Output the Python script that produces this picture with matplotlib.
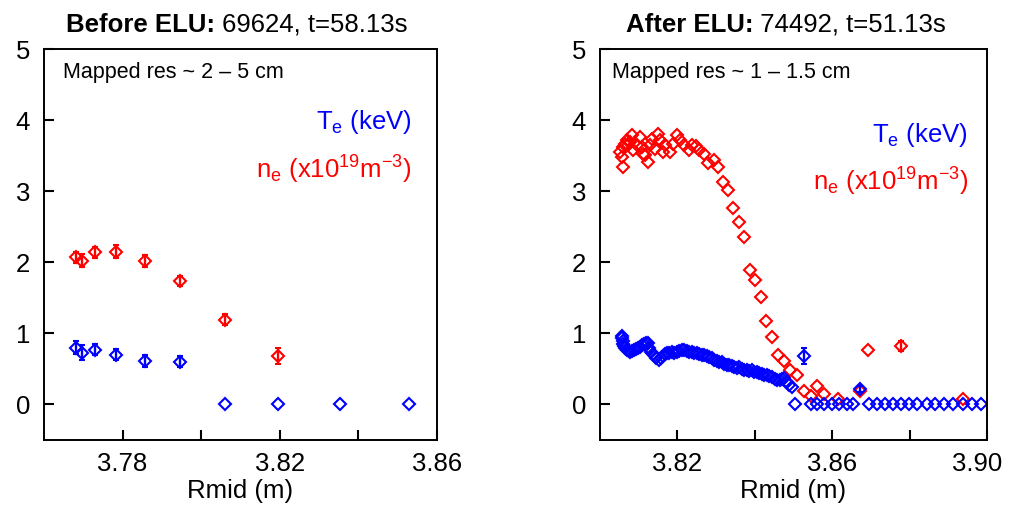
import numpy as np
from matplotlib import pyplot as plt
from matplotlib import transforms

plt.rcParams['font.family'] = ['Liberation Sans', 'DejaVu Sans']
plt.rcParams['mathtext.fontset'] = 'custom'
plt.rcParams['mathtext.rm'] = 'Liberation Sans'
plt.rcParams['mathtext.it'] = 'Liberation Sans:italic'

# ---- before ELU (69624) ----
rBefore = [3.7682, 3.7696, 3.7730, 3.7783, 3.7856, 3.7947, 3.8061, 3.8196, 3.8353, 3.8530]
teBefore = [0.80, 0.73, 0.77, 0.70, 0.61, 0.60, 0.0, 0.0, 0.0, 0.0]
teErrBefore = [0.09, 0.10, 0.08, 0.08, 0.08, 0.08, 0.0, 0.0, 0.0, 0.0]
rNeBefore = [3.7682, 3.7696, 3.7730, 3.7783, 3.7856, 3.7947, 3.8061, 3.8196]
neBefore = [2.07, 2.02, 2.14, 2.15, 2.02, 1.74, 1.19, 0.68]
neErrBefore = [0.08, 0.09, 0.08, 0.09, 0.08, 0.07, 0.08, 0.11]

# ---- after ELU (74492) ----
rNeAfter = [3.8052, 3.8056, 3.8060, 3.8060, 3.8065, 3.8069, 3.8073, 3.8082, 3.8078, 3.8086,
            3.8095, 3.8104, 3.8108, 3.8112, 3.8117, 3.8125, 3.8130, 3.8134, 3.8142, 3.8151,
            3.8155, 3.8164, 3.8168, 3.8181, 3.8188, 3.8199, 3.8207, 3.8216, 3.8229, 3.8237,
            3.8249, 3.8257, 3.8269, 3.8280, 3.8295, 3.8305, 3.8318, 3.8330, 3.8345, 3.8358,
            3.8371, 3.8387, 3.8400, 3.8416, 3.8430, 3.8445, 3.8460, 3.8475, 3.8491, 3.8509,
            3.8526, 3.8544, 3.8561, 3.8579, 3.8615, 3.8673, 3.8692, 3.8937]
neAfter = [3.55, 3.48, 3.34, 3.62, 3.67, 3.72, 3.65, 3.79, 3.69, 3.58,
           3.65, 3.76, 3.62, 3.53, 3.51, 3.41, 3.65, 3.74, 3.60, 3.81,
           3.72, 3.55, 3.65, 3.55, 3.67, 3.79, 3.72, 3.65, 3.58, 3.65,
           3.63, 3.58, 3.52, 3.39, 3.44, 3.34, 3.13, 3.02, 2.77, 2.57,
           2.35, 1.89, 1.75, 1.51, 1.17, 0.95, 0.70, 0.61, 0.49, 0.41,
           0.19, 0.12, 0.26, 0.15, 0.08, 0.19, 0.77, 0.08]
rNeErrAfter = [3.8777]
neErrAfter = [0.82]
neErrBarAfter = [0.07]

rTeAfter = [3.8056, 3.8058, 3.8060, 3.8059, 3.8062, 3.8066, 3.8070, 3.8074, 3.8078, 3.8083,
            3.8088, 3.8093, 3.8098, 3.8104, 3.8109, 3.8114, 3.8119, 3.8124, 3.8128, 3.8131,
            3.8136, 3.8141, 3.8146, 3.8152, 3.8157, 3.8162, 3.8167, 3.8172, 3.8179, 3.8185,
            3.8192, 3.8198, 3.8205, 3.8211, 3.8218, 3.8224, 3.8231, 3.8237, 3.8243, 3.8250,
            3.8256, 3.8263, 3.8269, 3.8276, 3.8282, 3.8289, 3.8295, 3.8302, 3.8308, 3.8315,
            3.8321, 3.8328, 3.8334, 3.8341, 3.8347, 3.8353, 3.8360, 3.8366, 3.8373, 3.8379,
            3.8386, 3.8392, 3.8399, 3.8405, 3.8412, 3.8418, 3.8425, 3.8431, 3.8438, 3.8444,
            3.8451, 3.8457, 3.8464, 3.8470, 3.8476, 3.8483, 3.8489, 3.8496]
teAfter = [0.96, 0.93, 0.89, 0.85, 0.82, 0.79, 0.77, 0.75, 0.74, 0.75,
           0.76, 0.78, 0.80, 0.81, 0.83, 0.85, 0.86, 0.87, 0.80, 0.74,
           0.71, 0.68, 0.65, 0.63, 0.65, 0.68, 0.71, 0.72, 0.73, 0.74,
           0.73, 0.74, 0.75, 0.76, 0.76, 0.75, 0.74, 0.74, 0.72, 0.72,
           0.71, 0.70, 0.69, 0.68, 0.67, 0.65, 0.63, 0.61, 0.60, 0.59,
           0.57, 0.56, 0.55, 0.54, 0.52, 0.51, 0.52, 0.50, 0.49, 0.49,
           0.47, 0.48, 0.46, 0.45, 0.44, 0.43, 0.42, 0.41, 0.40, 0.38,
           0.36, 0.34, 0.34, 0.36, 0.37, 0.31, 0.27, 0.24]
rTeErrAfter = [3.8526, 3.8673]
teErrAfter = [0.68, 0.22]
teErrBarAfter = [0.11, 0.04]
rTeZeroAfter = [3.8505, 3.8544, 3.8561, 3.8579, 3.8599, 3.8617, 3.8637, 3.8655, 3.8694, 3.8715,
                3.8736, 3.8757, 3.8777, 3.8798, 3.8820, 3.8844, 3.8866, 3.8888, 3.8911, 3.8937,
                3.8961, 3.8985]
teZeroAfter = [0.0] * len(rTeZeroAfter)

xTicksBefore = [3.78, 3.80, 3.82, 3.84, 3.86]
xLabelsBefore = ['3.78', '', '3.82', '', '3.86']
xTicksAfter = [3.82, 3.84, 3.86, 3.88, 3.90]
xLabelsAfter = ['3.82', '', '3.86', '', '3.90']
yTicks = [0, 1, 2, 3, 4, 5]

mk = dict(marker='D', ms=6.6, mfc='none', mew=1.5, ls='none')
eb = dict(capsize=2.5, elinewidth=1.7, capthick=1.7)


def styleAxes(ax, xlim, ticks, labels):
    ax.set_xlim(xlim)
    ax.set_ylim(-0.5, 5)
    ax.set_xticks(ticks)
    ax.set_xticklabels(labels)
    ax.set_yticks(yTicks)
    ax.tick_params(direction='in', length=7, width=1.5, labelsize=18.5, top=False, right=False)
    ax.tick_params(axis='y', pad=10)
    ax.tick_params(axis='x', pad=9)
    for s in ax.spines.values():
        s.set_linewidth(1.4)
    ax.set_xlabel('Rmid (m)', fontsize=18.5, labelpad=2)


def addTitle(ax, x0, boldPart, rest):
    t1 = ax.annotate(boldPart, xy=(x0, 1), xycoords='axes fraction', xytext=(0, 9),
                     textcoords='offset points', ha='left', va='bottom',
                     fontsize=18.5, fontweight='bold')
    ax.annotate(rest, xy=(1, 0), xycoords=t1, ha='left', va='bottom', fontsize=18.5)


fig = plt.figure(figsize=(10.09, 5.08), dpi=100)
ax1 = fig.add_axes([0.0436, 0.134, 0.3895, 0.7695])
ax2 = fig.add_axes([0.5946, 0.134, 0.3836, 0.7695])

# left panel
ax1.errorbar(rNeBefore, neBefore, yerr=neErrBefore, color='red', **mk, **eb)
ax1.errorbar(rBefore[:6], teBefore[:6], yerr=teErrBefore[:6], color='blue', **mk, **eb)
ax1.plot(rBefore[6:], teBefore[6:], color='blue', **mk)
styleAxes(ax1, (3.76, 3.86), xTicksBefore, xLabelsBefore)
addTitle(ax1, 0.056, 'Before ELU:', ' 69624, t=58.13s')
ax1.text(0.048, 0.941, 'Mapped res ~ 2 \u2013 5 cm', transform=ax1.transAxes, fontsize=15.5, va='center')
ax1.text(0.936, 0.813, 'T$_\\mathrm{e}$ (keV)', transform=ax1.transAxes, color='blue',
         fontsize=18.5, ha='right', va='center')
ax1.text(0.936, 0.69, 'n$_\\mathrm{e}$ (x10$^{19}$m$^{-3}$)', transform=ax1.transAxes, color='red',
         fontsize=18.5, ha='right', va='center')

# right panel
ax2.plot(rNeAfter, neAfter, color='red', **mk)
ax2.errorbar(rNeErrAfter, neErrAfter, yerr=neErrBarAfter, color='red', **mk, **eb)
ax2.plot(rTeAfter, teAfter, color='blue', **mk)
ax2.plot(rTeZeroAfter, teZeroAfter, color='blue', **mk)
ax2.errorbar(rTeErrAfter, teErrAfter, yerr=teErrBarAfter, color='blue', **mk, **eb)
styleAxes(ax2, (3.80, 3.90), xTicksAfter, xLabelsAfter)
addTitle(ax2, 0.067, 'After ELU:', ' 74492, t=51.13s')
ax2.text(0.031, 0.941, 'Mapped res ~ 1 \u2013 1.5 cm', transform=ax2.transAxes, fontsize=15.5, va='center')
ax2.text(0.951, 0.78, 'T$_\\mathrm{e}$ (keV)', transform=ax2.transAxes, color='blue',
         fontsize=18.5, ha='right', va='center')
ax2.text(0.951, 0.66, 'n$_\\mathrm{e}$ (x10$^{19}$m$^{-3}$)', transform=ax2.transAxes, color='red',
         fontsize=18.5, ha='right', va='center')

# last tick label sits at the figure edge, nudge it in a little
lastLab = ax2.get_xticklabels()[-1]
lastLab.set_transform(lastLab.get_transform() + transforms.ScaledTranslation(-7 / 72, 0, fig.dpi_scale_trans))

plt.savefig('out.png', dpi=100)
